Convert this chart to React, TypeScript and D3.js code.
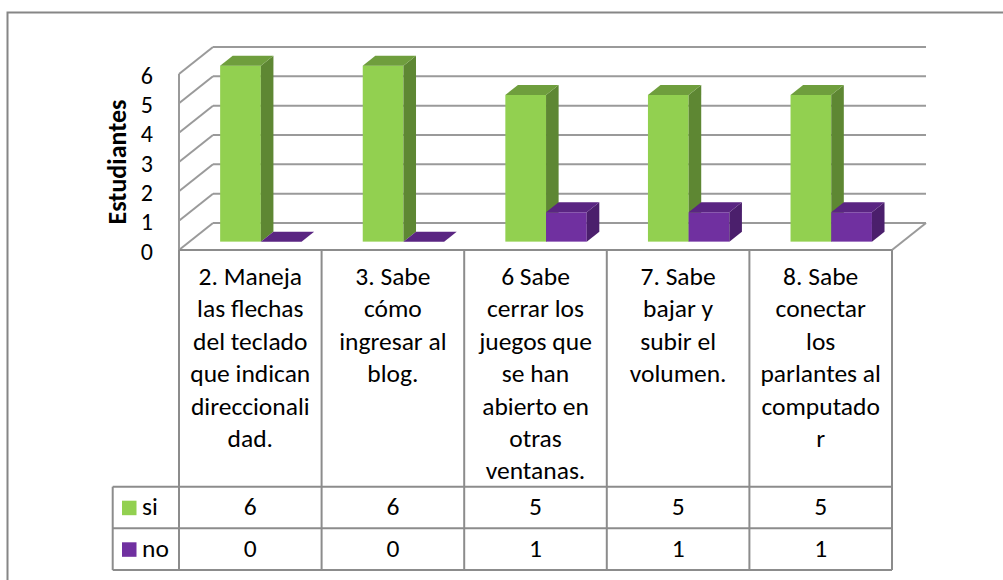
import React from "react";
import * as d3 from "d3";

const categories: string[][] = [
  ["2. Maneja", "las flechas", "del teclado", "que indican", "direccionali", "dad."],
  ["3. Sabe", "cómo", "ingresar al", "blog."],
  ["6 Sabe", "cerrar los", "juegos que", "se han", "abierto en", "otras", "ventanas."],
  ["7. Sabe", "bajar y", "subir el", "volumen."],
  ["8. Sabe", "conectar", "los", "parlantes al", "computado", "r"],
];
const seriesNames = ["si", "no"];
const siValues = [6, 6, 5, 5, 5];
const noValues = [0, 0, 1, 1, 1];
const yTicks = [0, 1, 2, 3, 4, 5, 6];
const yTitle = "Estudiantes";

const colors: Record<string, { front: string; side: string; top: string }> = {
  si: { front: "#92D050", side: "#5E8733", top: "#6F9E3D" },
  no: { front: "#7030A0", side: "#4B1F6C", top: "#5A2582" },
};

const FONT = "Carlito, Calibri, Lato, sans-serif";
const GRID = "#9A9A9A";
const TABLE = "#8C8C8C";

export default function App() {
  const W = 1003;
  const H = 580;
  const x0 = 179;
  const x1 = 892;
  const floorY = 250;
  const depthX = 34;
  const depthY = 27;
  const keys = categories.map((_, i) => String(i));
  const x = d3.scaleBand<string>().domain(keys).range([x0, x1]);
  const y = d3.scaleLinear().domain([0, 6]).range([floorY, floorY - 176]);
  const pairW = 81.4;
  const xs = d3.scaleBand<string>().domain(seriesNames).range([0, pairW]);
  const dFront = 0.31;
  const dBack = 0.68;
  const bdx = (dBack - dFront) * depthX;
  const bdy = (dBack - dFront) * depthY;

  const headerBottom = 486.7;
  const row1Bottom = 528.3;
  const row2Bottom = 570;
  const legendLeft = 112.7;

  const bars: JSX.Element[] = [];
  categories.forEach((_, i) => {
    const vals = [siValues[i], noValues[i]];
    seriesNames.forEach((s, j) => {
      const v = vals[j];
      const c = colors[s];
      const bx0 = (x(String(i)) as number) + x.bandwidth() / 2 - pairW / 2 + (xs(s) as number) + dFront * depthX;
      const bx1 = bx0 + xs.bandwidth();
      const yb = y(0) - dFront * depthY;
      const yt = y(v) - dFront * depthY;
      const k = `${i}-${s}`;
      if (v > 0) {
        bars.push(<rect key={k + "f"} x={bx0} y={yt} width={bx1 - bx0} height={yb - yt} fill={c.front} />);
        bars.push(
          <polygon key={k + "s"} fill={c.side}
            points={`${bx1},${yt} ${bx1 + bdx},${yt - bdy} ${bx1 + bdx},${yb - bdy} ${bx1},${yb}`} />
        );
      }
      bars.push(
        <polygon key={k + "t"} fill={c.top}
          points={`${bx0},${yt} ${bx1},${yt} ${bx1 + bdx},${yt - bdy} ${bx0 + bdx},${yt - bdy}`} />
      );
    });
  });

  return (
    <svg width={W} height={H} style={{ position: "absolute", left: 0, top: 0 }}>
      <rect x={0} y={0} width={W} height={H} fill="#fff" />
      <rect x={7.5} y={12.5} width={1020} height={620} fill="none" stroke="#868686" strokeWidth={2} />

      {yTicks.map((t) => (
        <g key={"g" + t}>
          <line x1={x0 + depthX} x2={x1 + depthX} y1={y(t) - depthY} y2={y(t) - depthY} stroke={GRID} strokeWidth={2} />
          <line x1={x0} x2={x0 + depthX} y1={y(t)} y2={y(t) - depthY} stroke={GRID} strokeWidth={2} />
        </g>
      ))}
      <line x1={x0} x2={x0} y1={y(6)} y2={floorY} stroke={GRID} strokeWidth={2} />
      <line x1={x1} x2={x1 + depthX} y1={floorY} y2={floorY - depthY} stroke={GRID} strokeWidth={2} />

      {bars}

      {yTicks.map((t) => (
        <text key={"t" + t} x={153} y={y(t) + 9.5} textAnchor="end" fontFamily={FONT} fontSize={24} fill="#000">
          {t}
        </text>
      ))}
      <text transform={`translate(117,162) rotate(-90)`} textAnchor="middle" dominantBaseline="central"
        fontFamily={FONT} fontSize={26} fontWeight="bold" fill="#000">
        {yTitle}
      </text>

      <g stroke={TABLE} strokeWidth={2} fill="none">
        <line x1={x0} x2={x1} y1={floorY} y2={floorY} />
        <line x1={legendLeft} x2={x1} y1={headerBottom} y2={headerBottom} />
        <line x1={legendLeft} x2={x1} y1={row1Bottom} y2={row1Bottom} />
        <line x1={legendLeft} x2={x1} y1={row2Bottom} y2={row2Bottom} />
        <line x1={legendLeft} x2={legendLeft} y1={headerBottom} y2={row2Bottom} />
        {keys.map((k) => (
          <line key={"v" + k} x1={x(k) as number} x2={x(k) as number} y1={floorY} y2={row2Bottom} />
        ))}
        <line x1={x1} x2={x1} y1={floorY} y2={row2Bottom} />
      </g>
      {categories.map((lines, i) => (
        <text key={"c" + i} fontFamily={FONT} fontSize={25.5} textAnchor="middle" fill="#000">
          {lines.map((ln, li) => (
            <tspan key={li} x={(x(String(i)) as number) + x.bandwidth() / 2} y={285 + li * 32.4}>
              {ln}
            </tspan>
          ))}
        </text>
      ))}
      {seriesNames.map((s, j) => {
        const rowTop = j === 0 ? headerBottom : row1Bottom;
        const base = j === 0 ? 515 : 556.5;
        const vals = j === 0 ? siValues : noValues;
        return (
          <g key={"r" + s}>
            <rect x={122} y={rowTop + 14} width={14.5} height={14.5} fill={colors[s].front} />
            <text x={142} y={base} fontFamily={FONT} fontSize={25.5} fill="#000">{s}</text>
            {vals.map((v, i) => (
              <text key={i} x={(x(String(i)) as number) + x.bandwidth() / 2} y={base} textAnchor="middle"
                fontFamily={FONT} fontSize={25.5} fill="#000">
                {v}
              </text>
            ))}
          </g>
        );
      })}
    </svg>
  );
}
